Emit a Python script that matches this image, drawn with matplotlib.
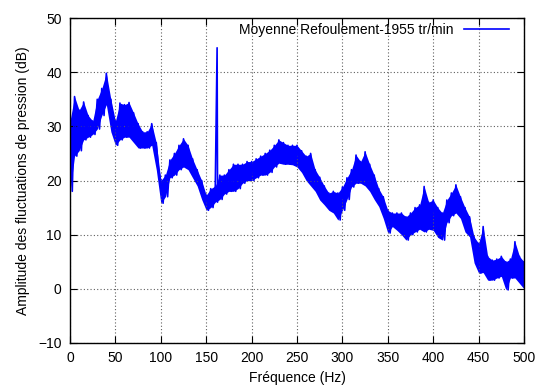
import numpy as np
import matplotlib.pyplot as plt

plt.rcParams['font.family'] = ['Liberation Sans', 'DejaVu Sans']

# band of the noisy spectrum, read every 5 Hz (top / bottom of the trace)
freq = np.arange(0, 505, 5)
upper = [31, 35.5, 33, 34.5, 32, 31, 35, 37, 39.8, 35,
         31, 34.3, 34, 34.4, 32.5, 30.5, 29, 29, 30.5, 27,
         20, 21, 23.8, 25, 26.5, 27.7, 26.5, 24, 22, 20,
         17.3, 18.5, 19, 21, 21, 22, 23, 23, 23, 23.5,
         23.5, 24, 24.5, 25, 25.6, 26.5, 27.5, 27, 26.5, 26.5,
         26.5, 25.5, 24.5, 25, 22, 20.6, 19, 17.7, 18, 17.7,
         18.8, 20.5, 22, 24.7, 23.5, 25.3, 23, 21, 18.5, 17,
         14.5, 14, 14, 14, 13.3, 14, 15, 15.5, 18.9, 16,
         16.4, 15, 14, 16.4, 17.7, 19.2, 17, 15, 13.3, 9.6,
         8.4, 11.5, 6, 5.3, 5.5, 6, 5, 5.5, 8.7, 6,
         5]
lower = [18, 24.5, 25.5, 27.5, 28, 28.5, 29.5, 32, 34, 29,
         26.5, 27.5, 28, 28, 27, 26, 26, 26, 26.5, 22,
         15.8, 17, 20.5, 21, 22, 22.5, 22, 20.5, 19, 16.5,
         14.5, 15, 16, 16.5, 17.5, 18, 18, 18.5, 19.5, 20,
         20, 20.5, 21, 21, 21.5, 22.5, 23.2, 23, 23, 22.9,
         22.5, 21.5, 20, 19, 18, 16.4, 15.5, 14.5, 14, 12.7,
         14.5, 16.5, 18.8, 19.5, 19.5, 19, 18, 16.5, 15.2, 13,
         10.3, 11.5, 10.8, 10, 9, 10, 10.5, 11, 10.5, 11,
         10.8, 9.5, 9, 12.2, 13.5, 14, 13, 10.5, 9.6, 4.8,
         2.9, 3, 1.6, 1.6, 2, 2.3, -0.2, 2, 2, 1,
         0]
spike_freq = 162
spike_level = 44.5

# trace: alternate between top and bottom of the band
x = np.ravel(np.column_stack([freq, freq + 2.5]))[:-1]
y = np.ravel(np.column_stack([upper, lower]))[:-1]
i = np.searchsorted(x, spike_freq)
x = np.insert(x, i, spike_freq)
y = np.insert(y, i, spike_level)

fig = plt.figure(figsize=(5.41, 3.85), dpi=100)
ax = fig.add_axes([0.1294, 0.1091, 0.8392, 0.8441])
ax.fill_between(freq, lower, upper, color='#0000ff', lw=0)
ax.plot(x, y, color='#0000ff', lw=1.2, label='Moyenne Refoulement-1955 tr/min')

ax.set_xlim(0, 500)
ax.set_ylim(-10, 50)
ax.set_xticks(np.arange(0, 501, 50))
ax.set_yticks(np.arange(-10, 51, 10))
ax.tick_params(direction='in', top=True, right=True, length=5, labelsize=10, pad=6)
ax.grid(True, color='#606060', linestyle=(0, (1, 2)), linewidth=0.8)
for s in ax.spines.values():
    s.set_linewidth(1.0)

ax.set_xlabel('Fréquence (Hz)', fontsize=10, labelpad=4)
ax.set_ylabel('Amplitude des fluctuations de pression (dB)', fontsize=10, labelpad=6)

ax.legend(loc='upper right', frameon=False, markerfirst=False, handlelength=3.2,
          fontsize=10, bbox_to_anchor=(0.985, 1.01), borderaxespad=0.2)

fig.savefig('out.png', dpi=100)
